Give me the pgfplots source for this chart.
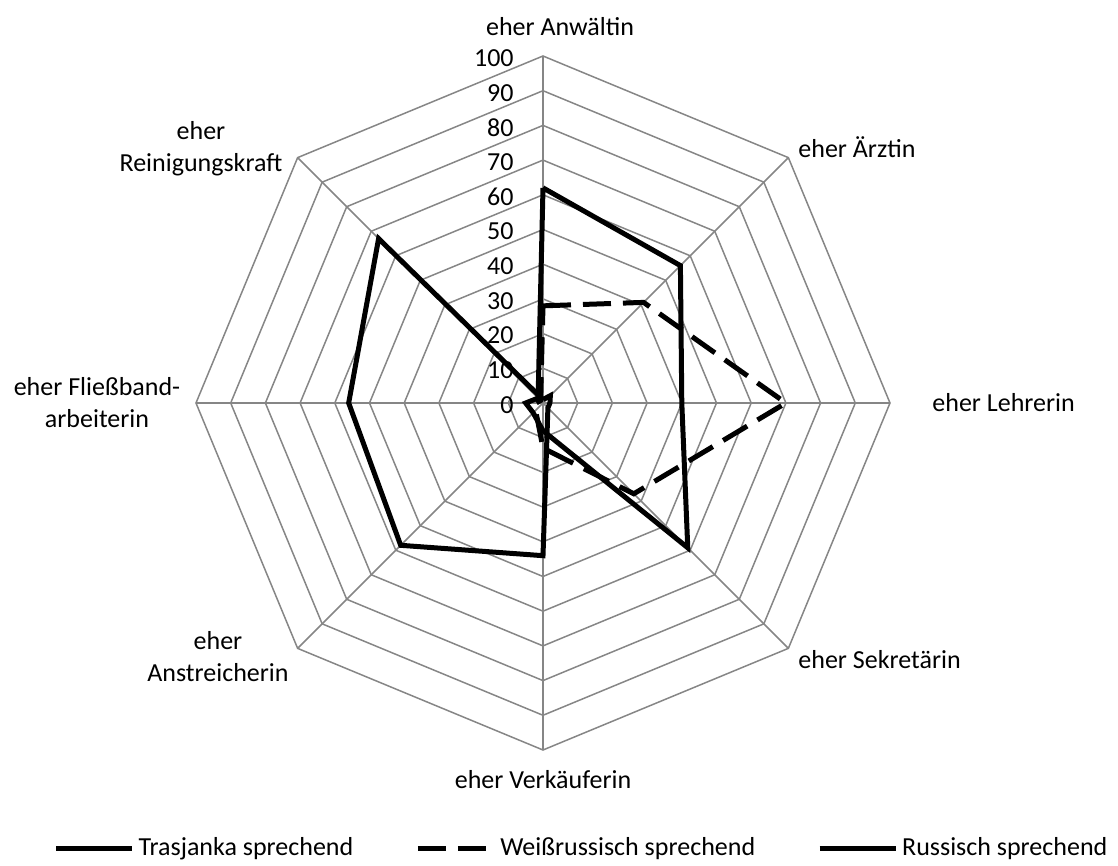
\documentclass[border=0pt]{standalone}
\usepackage{fontspec}
\setmainfont{Carlito}
\usepackage{pgfplots}
\pgfplotsset{compat=1.18}
\usepackage{pgfplotstable}
\definecolor{gridc}{HTML}{868686}

% angle (deg, clockwise from top), values per series; last row repeats the first to close the polygon
\pgfplotstableread{
ang tras weiss russ
0   62  28  1
45  56  41  3
90  40  70  2
135 59  37  2
180 8   13  44
225 4   3   58
270 5   2   56
315 2   1   67
360 62  28  1
}\radardata

\begin{document}
\begin{tikzpicture}[font=\fontsize{13}{16}\selectfont]
\begin{axis}[
  anchor=origin, at={(0pt,0pt)},
  x=1.735pt, y=1.735pt,
  xmin=-100, xmax=100, ymin=-100, ymax=100,
  hide axis, clip=false,
  legend columns=3,
  legend style={at={(axis description cs:0.5569,-0.1412)}, anchor=center,
    draw=none, fill=none, font=\fontsize{13}{16}\selectfont,
    /tikz/every even column/.append style={column sep=29pt}},
  legend image code/.code={\draw[#1] (0pt,0pt) -- (38pt,0pt);},
]
\pgfplotsinvokeforeach{10,20,30,40,50,60,70,80,90,100}{
  \draw[gridc, line width=0.75pt] (axis cs:0,#1) -- (axis cs:{0.70711*#1},{0.70711*#1}) -- (axis cs:#1,0) -- (axis cs:{0.70711*#1},{-0.70711*#1}) -- (axis cs:0,-#1) -- (axis cs:{-0.70711*#1},{-0.70711*#1}) -- (axis cs:-#1,0) -- (axis cs:{-0.70711*#1},{0.70711*#1}) -- cycle;
}
\pgfplotsinvokeforeach{0,45,90,135,180,225,270,315}{
  \draw[gridc, line width=0.75pt] (axis cs:0,0) -- (axis cs:{100*sin(#1)},{100*cos(#1)});
}
\addplot[black, line width=2.5pt] table[x expr={\thisrow{tras}*sin(\thisrow{ang})}, y expr={\thisrow{tras}*cos(\thisrow{ang})}] {\radardata};
\addlegendentry{Trasjanka sprechend}
\addplot[black, line width=2.5pt, dash pattern=on 14pt off 6pt] table[x expr={\thisrow{weiss}*sin(\thisrow{ang})}, y expr={\thisrow{weiss}*cos(\thisrow{ang})}] {\radardata};
\addlegendentry{Weißrussisch sprechend}
\addplot[black, line width=2.5pt] table[x expr={\thisrow{russ}*sin(\thisrow{ang})}, y expr={\thisrow{russ}*cos(\thisrow{ang})}] {\radardata};
\addlegendentry{Russisch sprechend}
\end{axis}
% radial tick labels
\foreach \v in {0,10,...,100}{
  \node[anchor=east, inner sep=0pt] at (-14.5pt, {\v*1.735pt-1pt}) {\v};
}
% category labels
\node at (8.5pt,188pt) {eher Anwältin};
\node[anchor=west, inner sep=0pt] at (127.5pt,128pt) {eher Ärztin};
\node[anchor=west, inner sep=0pt] at (194.5pt,0pt) {eher Lehrerin};
\node[anchor=west, inner sep=0pt] at (127.5pt,-128.5pt) {eher Sekretärin};
\node at (0pt,-188.5pt) {eher Verkäuferin};
\node[align=center] at (-162.5pt,-127pt) {eher\\Anstreicherin};
\node[align=center] at (-223pt,0pt) {eher Fließband-\\arbeiterin};
\node[align=center] at (-171pt,127pt) {eher\\Reinigungskraft};
\pgfresetboundingbox
\useasboundingbox (-271.5pt,-231.5pt) rectangle (287.5pt,201.5pt);
\end{tikzpicture}
\end{document}
